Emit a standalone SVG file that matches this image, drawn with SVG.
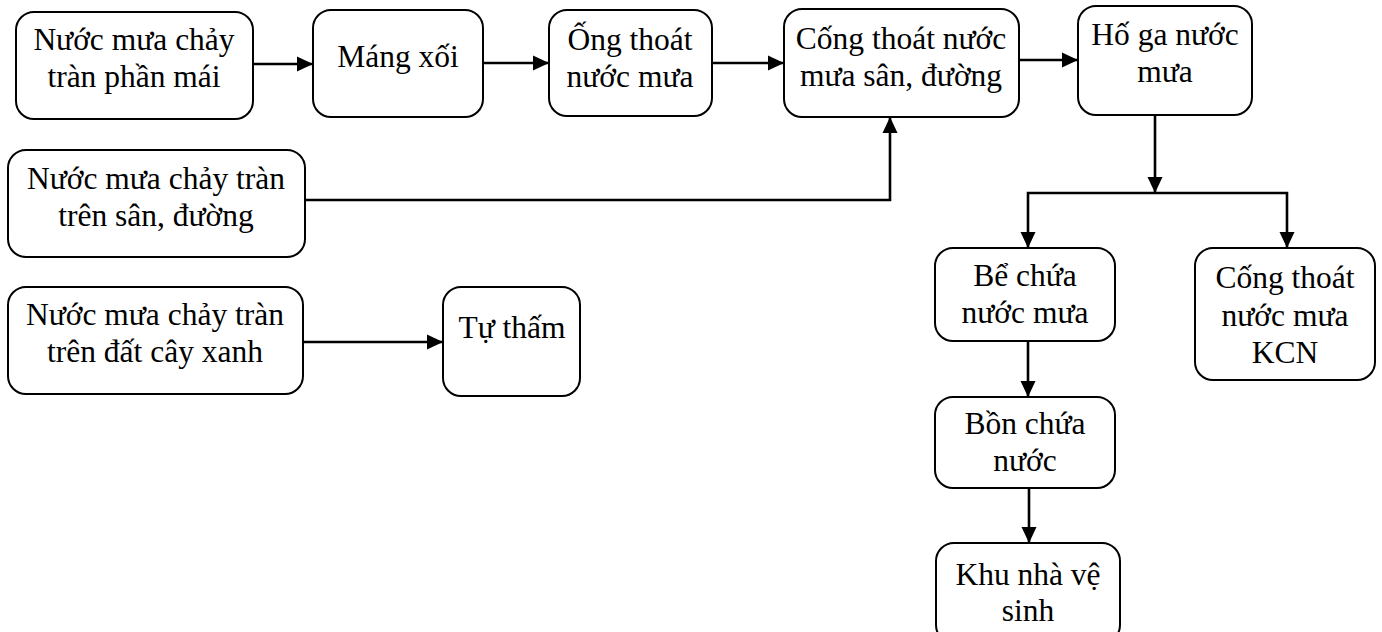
<svg xmlns="http://www.w3.org/2000/svg" width="1382" height="632" viewBox="0 0 1382 632">
<defs>
<style>
.box{fill:#fff;stroke:#000;stroke-width:2}
.t{font-family:"Liberation Serif","Times New Roman",serif;font-size:31.5px;fill:#000;text-anchor:middle}
.c{fill:none;stroke:#000;stroke-width:2.6}
</style>
<marker id="ah" markerUnits="userSpaceOnUse" markerWidth="17" markerHeight="16" refX="16" refY="8" orient="auto">
<path d="M0,0.5 L16,8 L0,15.5 Z" fill="#000"/>
</marker>
</defs>
<rect width="1382" height="632" fill="#fff"/>
<g id="connectors">
<path class="c" d="M253,64 H313" marker-end="url(#ah)"/>
<path class="c" d="M483,63 H549" marker-end="url(#ah)"/>
<path class="c" d="M712,63 H784" marker-end="url(#ah)"/>
<path class="c" d="M1019,60 H1078" marker-end="url(#ah)"/>
<path class="c" d="M305,200 H890 V117" marker-end="url(#ah)"/>
<path class="c" d="M1155,115 V193" marker-end="url(#ah)"/>
<path class="c" d="M1155,193 H1028 V248" marker-end="url(#ah)"/>
<path class="c" d="M1155,193 H1287 V248" marker-end="url(#ah)"/>
<path class="c" d="M1028,341 V397" marker-end="url(#ah)"/>
<path class="c" d="M1029,488 V543" marker-end="url(#ah)"/>
<path class="c" d="M303,342 H443" marker-end="url(#ah)"/>
</g>
<g id="n1"><rect class="box" x="16" y="12" width="237" height="107" rx="18"/><text class="t" x="134" y="50">Nước mưa chảy</text><text class="t" x="134" y="87">tràn phần mái</text></g>
<g id="n2"><rect class="box" x="313" y="10" width="170" height="107" rx="18"/><text class="t" x="398" y="67">Máng xối</text></g>
<g id="n3"><rect class="box" x="549" y="10" width="163" height="106" rx="18"/><text class="t" x="630" y="50">Ống thoát</text><text class="t" x="630" y="87">nước mưa</text></g>
<g id="n4"><rect class="box" x="784" y="9" width="235" height="108" rx="18"/><text class="t" x="901" y="49">Cống thoát nước</text><text class="t" x="901" y="86">mưa sân, đường</text></g>
<g id="n5"><rect class="box" x="1078" y="6" width="174" height="109" rx="18"/><text class="t" x="1165" y="45">Hố ga nước</text><text class="t" x="1165" y="82">mưa</text></g>
<g id="n6"><rect class="box" x="8" y="150" width="297" height="107" rx="18"/><text class="t" x="156" y="189">Nước mưa chảy tràn</text><text class="t" x="156" y="226">trên sân, đường</text></g>
<g id="n7"><rect class="box" x="8" y="287" width="295" height="107" rx="18"/><text class="t" x="155" y="325">Nước mưa chảy tràn</text><text class="t" x="155" y="362">trên đất cây xanh</text></g>
<g id="n8"><rect class="box" x="443" y="287" width="137" height="109" rx="18"/><text class="t" x="512" y="338">Tự thấm</text></g>
<g id="n9"><rect class="box" x="935" y="248" width="180" height="93" rx="18"/><text class="t" x="1025" y="286">Bể chứa</text><text class="t" x="1025" y="323">nước mưa</text></g>
<g id="n10"><rect class="box" x="1195" y="248" width="180" height="132" rx="18"/><text class="t" x="1285" y="288">Cống thoát</text><text class="t" x="1285" y="326">nước mưa</text><text class="t" x="1285" y="363">KCN</text></g>
<g id="n11"><rect class="box" x="935" y="397" width="180" height="91" rx="18"/><text class="t" x="1025" y="434">Bồn chứa</text><text class="t" x="1025" y="471">nước</text></g>
<g id="n12"><rect class="box" x="936" y="543" width="184" height="100" rx="18"/><text class="t" x="1028" y="585">Khu nhà vệ</text><text class="t" x="1028" y="621">sinh</text></g>
</svg>
